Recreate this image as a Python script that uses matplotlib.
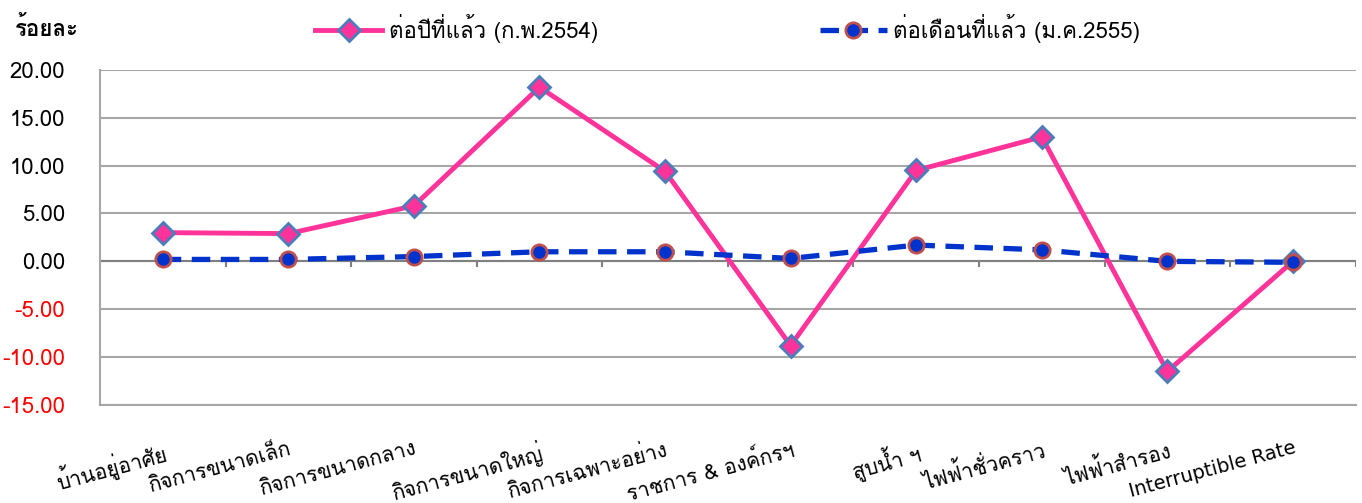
import numpy as np
import matplotlib
matplotlib.use("Agg")
import matplotlib.pyplot as plt
from matplotlib import font_manager
from matplotlib.ft2font import FT2Font

# หาฟอนต์ที่มีอักษรไทย
thai_fonts = []
for f in font_manager.fontManager.ttflist:
    try:
        if 0x0E01 in FT2Font(f.fname).get_charmap() and f.name not in thai_fonts:
            thai_fonts.append(f.name)
    except Exception:
        pass
plt.rcParams['font.family'] = thai_fonts + ['DejaVu Sans']

categories = ["บ้านอยู่อาศัย", "กิจการขนาดเล็ก", "กิจการขนาดกลาง", "กิจการขนาดใหญ่",
              "กิจการเฉพาะอย่าง", "ราชการ & องค์กรฯ", "สูบน้ำ ฯ", "ไฟฟ้าชั่วคราว",
              "ไฟฟ้าสำรอง", "Interruptible Rate"]
yoy = [3.0, 2.9, 5.8, 18.2, 9.4, -8.8, 9.5, 13.0, -11.5, 0.0]
mom = [0.2, 0.2, 0.5, 1.0, 1.0, 0.3, 1.7, 1.2, 0.0, -0.1]
yoy_label = "ต่อปีที่แล้ว (ก.พ.2554)"
mom_label = "ต่อเดือนที่แล้ว (ม.ค.2555)"
yticks = [20, 15, 10, 5, 0, -5, -10, -15]

fig = plt.figure(figsize=(13.62, 5.03), dpi=100)
ax = fig.add_axes([0.0734, 0.195, 0.922, 0.666])

x = np.arange(len(categories))
ax.plot(x, yoy, color='#ff3399', lw=3.5, marker='D', ms=11,
        mfc='#ff3399', mec='#4a7ebb', mew=2, label=yoy_label, zorder=4)
ax.plot(x, mom, color='#0033cc', lw=3.8, ls=(0, (3.5, 2)), marker='o', ms=11,
        mfc='#0033cc', mec='#c0504d', mew=2, label=mom_label, zorder=5)

ax.set_xlim(-0.5, len(categories) - 0.5)
ax.set_ylim(-15, 20)
ax.set_yticks(yticks)
ax.set_yticklabels([f"{v:.2f}" for v in yticks])
for lab, v in zip(ax.get_yticklabels(), yticks):
    lab.set_color('red' if v < 0 else 'black')
ax.tick_params(axis='y', length=0, labelsize=16, pad=25)

ax.grid(axis='y', color='#a6a6a6', lw=1.5)
ax.axhline(0, color='#808080', lw=1.5, zorder=2)
ax.vlines(np.arange(len(categories) + 1) - 0.5, -0.6, 0, color='#808080', lw=1.5, zorder=2)

ax.set_xticks(x)
ax.set_xticklabels(categories, rotation=15, ha='right', va='top',
                   rotation_mode='anchor', fontsize=15)
ax.tick_params(axis='x', length=0, pad=24)
ax.get_xticklabels()[-1].set_fontfamily(['DejaVu Sans'])
ax.get_xticklabels()[-1].set_fontsize(14)

for s in ['top', 'right']:
    ax.spines[s].set_visible(False)
for s in ['left', 'bottom']:
    ax.spines[s].set_color('#a6a6a6')
    ax.spines[s].set_linewidth(1.5)

fig.text(0.011, 0.945, "ร้อยละ", fontsize=16, fontweight='bold', va='center', ha='left')
ax.legend(loc='lower center', bbox_to_anchor=(0.5, 1.02), ncol=2, frameon=False,
          fontsize=16, handlelength=3.0, handletextpad=0.3, columnspacing=10)

fig.savefig("out.png", dpi=100)
